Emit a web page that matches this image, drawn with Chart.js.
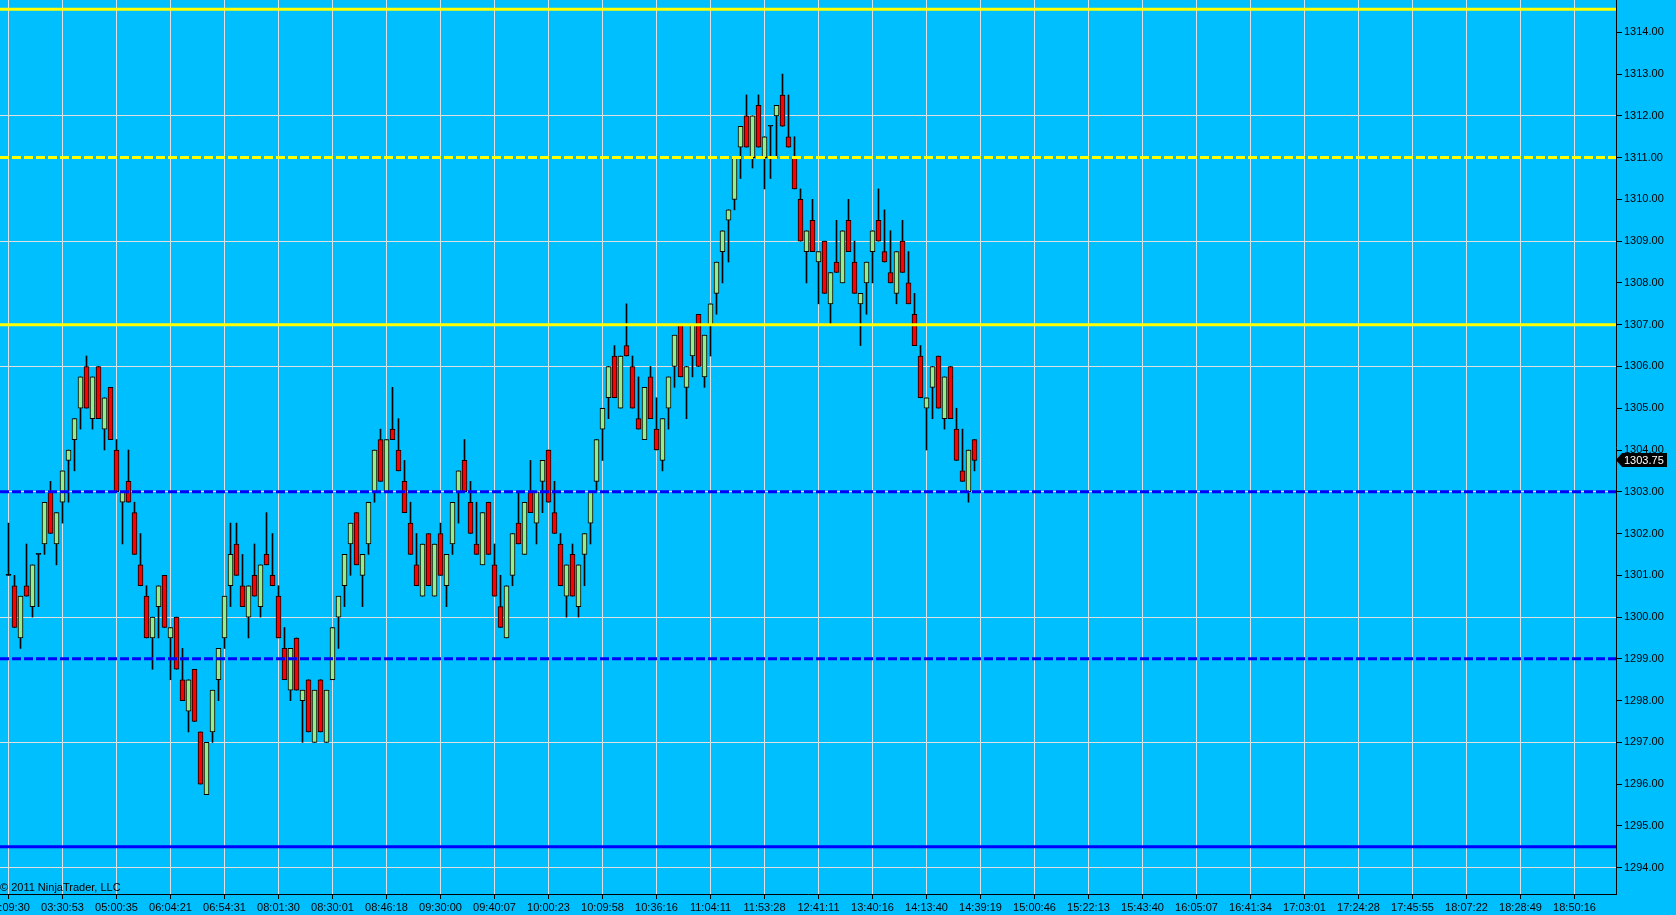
<!DOCTYPE html>
<html><head><meta charset="utf-8">
<script src="https://cdn.jsdelivr.net/npm/chart.js@4.4.0/dist/chart.umd.min.js"></script>
<style>
html,body{margin:0;padding:0;background:#00BFFF;overflow:hidden;}
canvas{display:block;}
</style></head><body>
<canvas id="c" width="1676" height="915"></canvas>
<script>
// ---- DATA ----
const opens = [
1301.00,1300.75,1299.50,1300.75,1300.25,1301.50,1301.75,1303.00,1301.75,1302.75,
1303.75,1304.25,1305.00,1306.00,1304.75,1306.00,1304.50,1305.50,1304.00,1302.75,
1303.25,1302.50,1301.25,1300.50,1299.50,1300.25,1301.00,1299.50,1300.00,1298.50,
1297.75,1298.75,1297.25,1295.75,1297.25,1298.50,1299.50,1300.75,1301.75,1300.75,
1300.00,1301.00,1300.25,1301.50,1301.00,1300.50,1299.25,1298.25,1299.50,1298.00,
1298.50,1297.00,1298.50,1297.00,1298.50,1300.00,1300.75,1301.75,1302.50,1301.00,
1301.75,1303.00,1304.25,1303.00,1304.50,1304.00,1303.25,1302.25,1301.25,1300.50,
1302.00,1300.50,1302.00,1300.75,1301.75,1303.00,1303.75,1302.75,1301.75,1301.25,
1302.75,1301.25,1300.25,1299.50,1301.00,1302.25,1301.50,1303.00,1302.25,1303.25,
1304.00,1302.50,1301.75,1300.50,1301.50,1300.25,1301.50,1302.25,1303.25,1304.50,
1305.25,1306.25,1305.00,1306.50,1306.00,1304.75,1304.25,1305.75,1304.50,1303.75,
1305.00,1306.00,1307.00,1305.50,1306.25,1307.25,1305.75,1307.00,1307.75,1308.75,
1309.50,1310.00,1311.25,1312.00,1311.00,1312.25,1311.00,1311.75,1312.00,1312.50,
1311.50,1311.00,1310.00,1308.75,1309.50,1308.50,1309.00,1307.50,1308.50,1308.00,
1309.50,1308.50,1307.50,1308.00,1308.75,1309.50,1308.75,1308.25,1307.75,1309.00,
1308.00,1307.25,1306.25,1305.00,1305.50,1306.25,1304.75,1306.00,1304.50,1303.50,
1303.00,1304.25];
const highs = [
1302.25,1301.00,1300.50,1301.75,1301.25,1301.50,1302.75,1303.25,1302.50,1303.50,
1304.00,1304.75,1305.75,1306.25,1305.75,1306.00,1305.25,1305.50,1304.25,1303.00,
1304.00,1302.75,1302.00,1300.75,1300.00,1300.75,1301.00,1299.75,1300.00,1299.25,
1298.50,1298.75,1297.25,1297.00,1298.25,1299.25,1300.50,1302.25,1302.25,1301.50,
1300.75,1301.75,1301.25,1302.50,1302.00,1300.75,1299.75,1299.25,1299.50,1298.25,
1298.50,1298.25,1298.50,1298.25,1299.75,1300.50,1301.50,1302.25,1302.50,1301.50,
1302.75,1304.00,1304.50,1304.25,1305.50,1304.75,1303.75,1302.75,1302.00,1301.75,
1302.00,1301.75,1302.25,1301.50,1302.75,1303.50,1304.25,1303.25,1302.75,1302.50,
1302.75,1301.75,1301.00,1300.75,1302.00,1303.00,1302.75,1303.75,1303.00,1303.75,
1304.00,1303.25,1302.00,1301.25,1301.75,1301.25,1302.00,1303.00,1304.25,1305.00,
1306.00,1306.50,1306.25,1307.50,1306.25,1305.75,1305.50,1306.00,1305.25,1304.75,
1305.75,1306.75,1307.00,1306.00,1307.00,1307.25,1306.75,1307.50,1308.50,1309.25,
1309.75,1311.00,1311.75,1312.50,1312.00,1312.50,1311.50,1311.75,1312.25,1313.00,
1312.50,1311.50,1310.25,1309.25,1310.00,1308.75,1309.00,1308.25,1309.50,1309.25,
1310.00,1309.00,1307.75,1308.50,1309.25,1310.25,1309.75,1309.25,1308.75,1309.50,
1308.75,1307.75,1306.50,1305.25,1306.00,1306.25,1305.75,1306.00,1305.00,1304.50,
1304.00,1304.25];
const lows = [
1301.00,1299.75,1299.25,1300.50,1300.00,1300.25,1301.50,1302.00,1301.25,1302.25,
1302.75,1303.50,1304.50,1305.00,1304.50,1304.75,1304.00,1304.25,1303.00,1301.75,
1302.75,1301.50,1300.75,1299.50,1298.75,1299.50,1299.75,1298.50,1298.75,1298.00,
1297.25,1297.50,1296.00,1295.75,1297.00,1298.00,1299.25,1300.25,1301.00,1300.25,
1299.50,1300.50,1300.00,1301.25,1300.75,1299.50,1298.50,1298.00,1298.25,1297.00,
1297.25,1297.00,1297.25,1297.00,1298.50,1299.25,1300.25,1301.00,1301.25,1300.25,
1301.50,1302.75,1303.25,1303.00,1304.25,1303.50,1302.50,1301.50,1300.75,1300.50,
1300.75,1300.50,1301.00,1300.25,1301.50,1302.25,1303.00,1302.00,1301.50,1301.25,
1301.50,1300.50,1299.75,1299.50,1300.75,1301.75,1301.50,1302.50,1301.75,1302.50,
1302.75,1302.00,1300.75,1300.00,1300.50,1300.00,1300.75,1301.75,1303.00,1303.75,
1304.75,1305.25,1305.00,1306.25,1305.00,1304.50,1304.25,1304.75,1304.00,1303.50,
1304.50,1305.50,1305.75,1304.75,1305.75,1306.00,1305.50,1306.25,1307.25,1308.00,
1308.50,1309.75,1310.50,1311.25,1310.75,1311.25,1310.25,1310.50,1311.00,1311.75,
1311.25,1310.25,1309.00,1308.00,1308.75,1307.50,1307.75,1307.00,1308.25,1308.00,
1308.75,1307.75,1306.50,1307.25,1308.00,1309.00,1308.50,1308.00,1307.50,1308.25,
1307.50,1306.50,1305.25,1304.00,1304.75,1305.00,1304.50,1304.75,1303.75,1303.25,
1302.75,1303.50];
const closes = [
1301.00,1299.75,1300.50,1300.50,1301.25,1301.50,1302.75,1302.00,1302.50,1303.50,
1304.00,1304.75,1305.75,1305.00,1305.75,1304.75,1305.25,1304.25,1303.00,1303.00,
1302.75,1301.50,1300.75,1299.50,1300.00,1300.75,1299.75,1299.75,1298.75,1298.00,
1298.50,1297.50,1296.00,1297.00,1298.25,1299.25,1300.50,1301.50,1301.00,1300.25,
1300.75,1300.50,1301.25,1301.25,1300.75,1299.50,1298.50,1299.25,1298.25,1298.25,
1297.25,1298.25,1297.25,1298.25,1299.75,1300.50,1301.50,1302.25,1301.25,1301.50,
1302.75,1304.00,1303.25,1304.25,1304.25,1303.50,1302.50,1301.50,1300.75,1301.75,
1300.75,1301.75,1301.00,1301.50,1302.75,1303.50,1303.00,1302.00,1301.50,1302.50,
1301.50,1300.50,1299.75,1300.75,1302.00,1301.75,1302.75,1302.50,1303.00,1303.75,
1302.75,1302.00,1300.75,1301.25,1300.50,1301.25,1302.00,1303.00,1304.25,1305.00,
1306.00,1305.25,1306.25,1306.25,1305.00,1304.50,1305.50,1304.75,1304.00,1304.75,
1305.75,1306.75,1305.75,1306.00,1307.00,1306.00,1306.75,1307.50,1308.50,1309.25,
1309.75,1311.00,1311.75,1311.25,1312.00,1311.25,1311.50,1311.75,1312.25,1311.75,
1311.25,1310.25,1309.00,1309.25,1308.75,1308.75,1307.75,1308.25,1308.25,1309.25,
1308.75,1307.75,1307.75,1308.50,1309.25,1309.00,1308.50,1308.00,1308.75,1308.25,
1307.50,1306.50,1305.25,1305.25,1306.00,1305.00,1305.75,1304.75,1303.75,1303.25,
1304.00,1303.75];
// time labels, one every 9 bar slots (slot 0, 9, 18, ...)
const timeLabels = ["02:09:30","03:30:53","05:00:35","06:04:21","06:54:31","08:01:30","08:30:01","08:46:18","09:30:00","09:40:07",
"10:00:23","10:09:58","10:36:16","11:04:11","11:53:28","12:41:11","13:40:16","14:13:40","14:39:19","15:00:46",
"15:22:13","15:43:40","16:05:07","16:41:34","17:03:01","17:24:28","17:45:55","18:07:22","18:28:49","18:50:16"];
const labelStep = 9;
const priceTicks = [1294,1295,1296,1297,1298,1299,1300,1301,1302,1303,1304,1305,1306,1307,1308,1309,1310,1311,1312,1313,1314];
const gridPrices = [1294,1297,1300,1303,1306,1309,1312];
const levelValues = [1314.55, 1311, 1307, 1303, 1299, 1294.5];
const levelColors = ['#FFFF00','#FFFF00','#FFFF00','#0000FF','#0000FF','#0000FF'];
const levelDashed = [false, true, false, true, true, false];
const copyrightText = '\u00A9 2011 NinjaTrader, LLC';

// ---- CHART ----
Chart.defaults.font.family = '"Liberation Sans", Arial, sans-serif';
Chart.defaults.font.size = 11;
Chart.defaults.color = '#000';

const plotW = 1616, slotPx = 6, firstPx = 8.5;
const xMin = -firstPx / slotPx;
const xMax = xMin + plotW / slotPx;
const yMax = 1314.7733, yMin = 1293.3704;

const wickData = closes.map((c, i) => ({x: i, y: [lows[i], highs[i]]}));
const bodyData = closes.map((c, i) => ({x: i, y: [Math.min(opens[i], c), Math.max(opens[i], c)]}));
const bodyColors = closes.map((c, i) => c > opens[i] ? '#90EE90' : (c < opens[i] ? '#FF0000' : '#000000'));

const lineSets = levelValues.map((v, k) => ({
  type: 'line',
  data: [{x: xMin, y: v}, {x: xMax, y: v}],
  borderColor: levelColors[k],
  borderWidth: 3,
  borderDash: levelDashed[k] ? [9, 3] : [],
  pointRadius: 0,
  fill: false,
  tension: 0,
  clip: 0,
  order: 0
}));

const overlay = {
  id: 'overlay',
  afterDraw(chart) {
    const ctx = chart.ctx;
    const ys = chart.scales.y;
    ctx.save();
    // copyright
    ctx.font = '11px "Liberation Sans", Arial, sans-serif';
    ctx.fillStyle = '#000';
    ctx.textAlign = 'left';
    ctx.textBaseline = 'middle';
    ctx.fillText(copyrightText, 0, 888);
    // last price marker
    const last = closes[closes.length - 1];
    const yp = Math.round(ys.getPixelForValue(last));
    const ax = chart.chartArea.right;
    ctx.fillStyle = '#000';
    ctx.beginPath();
    ctx.moveTo(ax, yp);
    ctx.lineTo(ax + 6, yp - 7);
    ctx.lineTo(ax + 51, yp - 7);
    ctx.lineTo(ax + 51, yp + 7);
    ctx.lineTo(ax + 6, yp + 7);
    ctx.closePath();
    ctx.fill();
    ctx.fillStyle = '#FFF';
    ctx.fillText(last.toFixed(2), ax + 8, yp + 0.5);
    ctx.restore();
  }
};

new Chart(document.getElementById('c'), {
  type: 'bar',
  data: {
    datasets: [
      ...lineSets,
      {
        data: bodyData,
        backgroundColor: bodyColors,
        borderColor: '#000',
        borderWidth: 1,
        borderSkipped: false,
        barThickness: 5,
        minBarLength: 1,
        grouped: false,
        order: 1
      },
      {
        data: wickData,
        backgroundColor: '#000',
        borderWidth: 0,
        barThickness: 1,
        grouped: false,
        order: 2
      }
    ]
  },
  options: {
    responsive: false,
    animation: false,
    events: [],
    layout: {padding: 0},
    plugins: {legend: {display: false}, tooltip: {enabled: false}},
    scales: {
      x: {
        type: 'linear', min: xMin, max: xMax, offset: false,
        grid: {offset: false, color: '#E0E0E0', lineWidth: 1, tickColor: '#000', tickLength: 5},
        border: {display: true, color: '#000', width: 1},
        ticks: {
          autoSkip: false, maxRotation: 0, minRotation: 0, padding: 2, color: '#000',
          callback: (v) => { const k = Math.round(v / labelStep); return timeLabels[k] !== undefined ? timeLabels[k] : ''; }
        },
        afterBuildTicks: (s) => { s.ticks = timeLabels.map((t, k) => ({value: k * labelStep})); },
        afterFit: (s) => { s.height = 21; s.paddingLeft = 0; s.paddingRight = 0; }
      },
      y: {
        type: 'linear', position: 'right', min: yMin, max: yMax,
        grid: {
          color: (c) => (c.tick && gridPrices.includes(Math.round(c.tick.value))) ? '#E0E0E0' : 'rgba(0,0,0,0)',
          tickColor: '#000', tickLength: 6, lineWidth: 1
        },
        border: {display: true, color: '#000', width: 1},
        ticks: {padding: 2, color: '#000', callback: (v) => Number(v).toFixed(2)},
        afterBuildTicks: (s) => { s.ticks = priceTicks.map(v => ({value: v})); },
        afterFit: (s) => { s.width = 60; s.paddingTop = 0; s.paddingBottom = 0; }
      }
    }
  },
  plugins: [overlay]
});
</script>
</body></html>
